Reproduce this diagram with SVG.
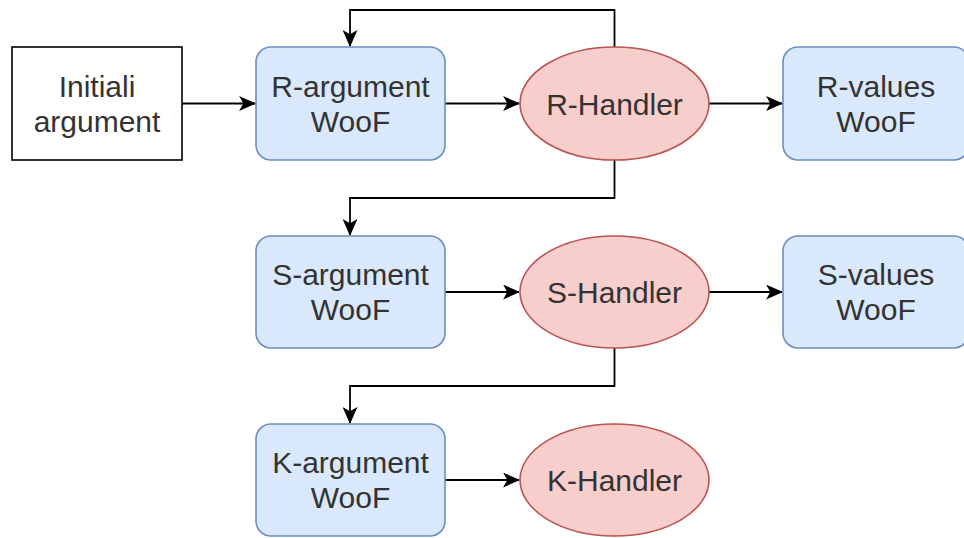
<svg xmlns="http://www.w3.org/2000/svg" width="964" height="538" viewBox="0 0 964 538">
<style>
.plain{fill:#ffffff;stroke:#000000;stroke-width:1.6}
.blue{fill:#dae8fc;stroke:#6c8ebf;stroke-width:1.6}
.red{fill:#f8cecc;stroke:#b85450;stroke-width:1.6}
.t{font-family:"Liberation Sans",Arial,sans-serif;font-size:30px;fill:#333333;text-anchor:middle}
.e{fill:none;stroke:#000000;stroke-width:1.8}
</style>
<defs>
<marker id="arr" viewBox="0 0 16 14" refX="15" refY="7" markerWidth="17" markerHeight="15" markerUnits="userSpaceOnUse" orient="auto">
<path d="M0,0 L16,7 L0,14 L4,7 Z" fill="#000000"/>
</marker>
</defs>
<rect width="964" height="538" fill="#ffffff"/>
<g id="connectors">
<path class="e" d="M182,103.5 L255,103.5" marker-end="url(#arr)"/>
<path class="e" d="M445,103.5 L519,103.5" marker-end="url(#arr)"/>
<path class="e" d="M709,103.5 L782,103.5" marker-end="url(#arr)"/>
<path class="e" d="M614.5,47 L614.5,10 L350,10 L350,46" marker-end="url(#arr)"/>
<path class="e" d="M614.5,160 L614.5,198 L350,198 L350,235" marker-end="url(#arr)"/>
<path class="e" d="M445,292 L519,292" marker-end="url(#arr)"/>
<path class="e" d="M709,292 L782,292" marker-end="url(#arr)"/>
<path class="e" d="M614.5,348 L614.5,386 L350,386 L350,423" marker-end="url(#arr)"/>
<path class="e" d="M445,480 L519,480" marker-end="url(#arr)"/>
</g>
<g id="initial">
<rect class="plain" x="12" y="47" width="170" height="113"/>
<text class="t" x="97" y="97">Initiali</text>
<text class="t" x="97" y="132">argument</text>
</g>
<g id="r-argument">
<rect class="blue" x="256" y="47" width="189" height="113" rx="15"/>
<text class="t" x="350.5" y="97">R-argument</text>
<text class="t" x="350.5" y="132">WooF</text>
</g>
<g id="r-handler">
<ellipse class="red" cx="614.5" cy="103.5" rx="94.5" ry="56.5"/>
<text class="t" x="614.5" y="114.5">R-Handler</text>
</g>
<g id="r-values">
<rect class="blue" x="783" y="47" width="186" height="113" rx="15"/>
<text class="t" x="876" y="97">R-values</text>
<text class="t" x="876" y="132">WooF</text>
</g>
<g id="s-argument">
<rect class="blue" x="256" y="236" width="189" height="112" rx="15"/>
<text class="t" x="350.5" y="285">S-argument</text>
<text class="t" x="350.5" y="320">WooF</text>
</g>
<g id="s-handler">
<ellipse class="red" cx="614.5" cy="292" rx="94.5" ry="56"/>
<text class="t" x="614.5" y="303">S-Handler</text>
</g>
<g id="s-values">
<rect class="blue" x="783" y="236" width="186" height="112" rx="15"/>
<text class="t" x="876" y="285">S-values</text>
<text class="t" x="876" y="320">WooF</text>
</g>
<g id="k-argument">
<rect class="blue" x="256" y="424" width="189" height="112" rx="15"/>
<text class="t" x="350.5" y="473">K-argument</text>
<text class="t" x="350.5" y="508">WooF</text>
</g>
<g id="k-handler">
<ellipse class="red" cx="614.5" cy="480" rx="94.5" ry="56"/>
<text class="t" x="614.5" y="491">K-Handler</text>
</g>
</svg>
